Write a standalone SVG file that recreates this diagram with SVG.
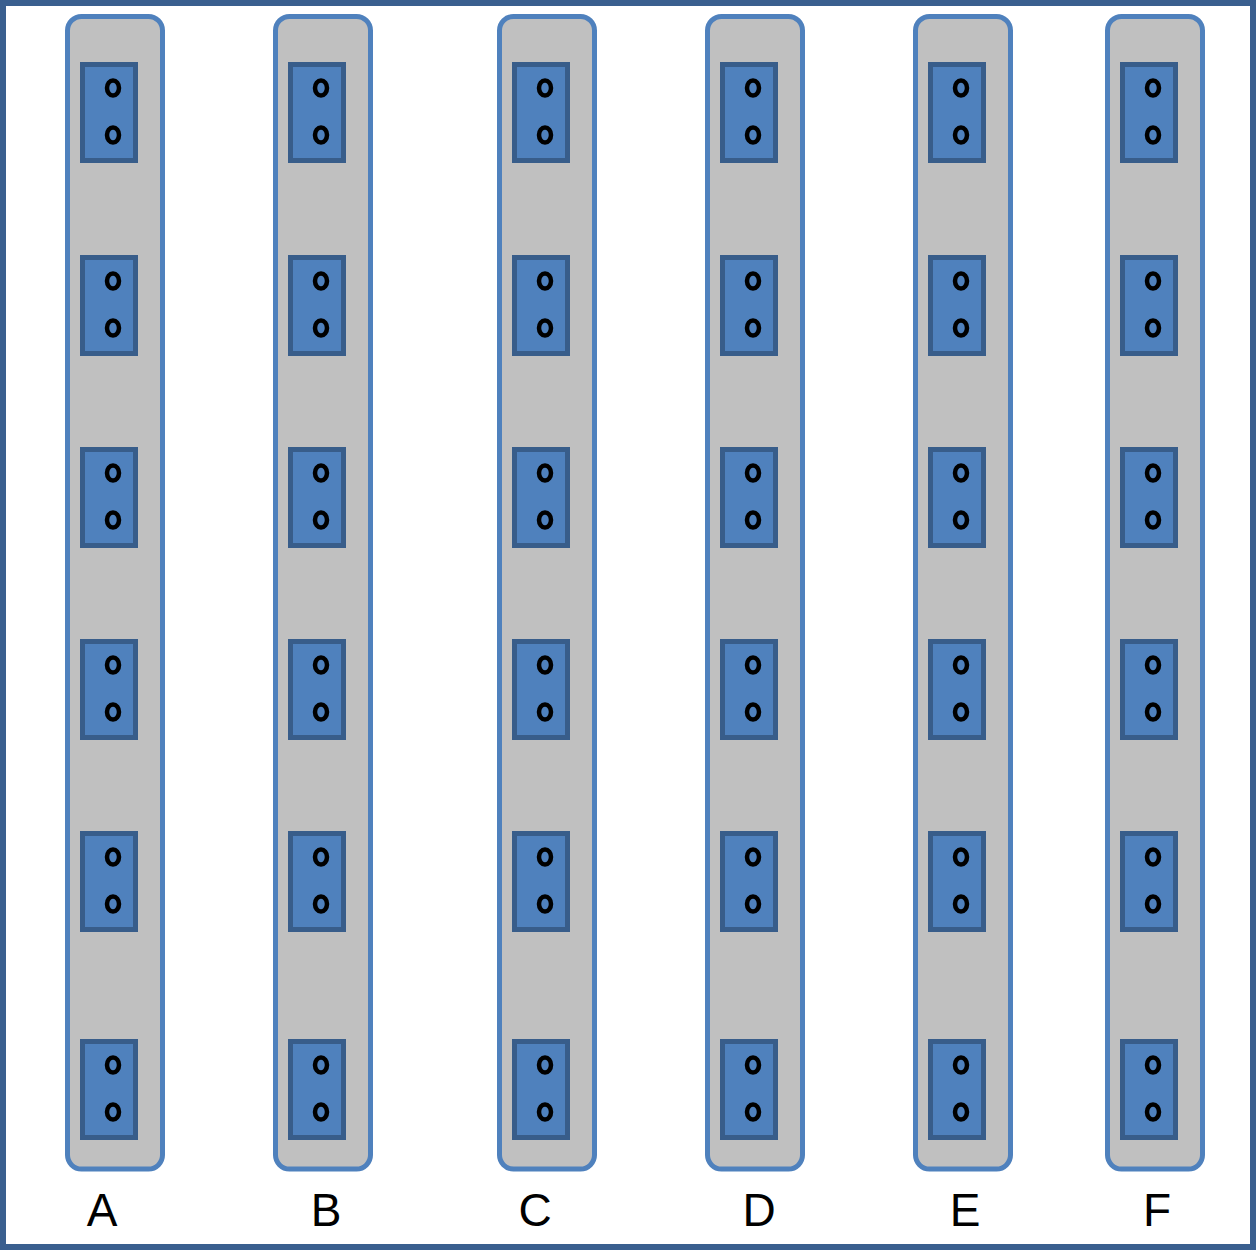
<svg xmlns="http://www.w3.org/2000/svg" xmlns:xlink="http://www.w3.org/1999/xlink" width="1256" height="1250" viewBox="0 0 1256 1250">
<style>
.frame{fill:#fff;stroke:#3a5f8f;stroke-width:6}
.strip{fill:#c0c0c0;stroke:#4f81bd;stroke-width:5}
.blk{fill:#4f81bd;stroke:#385d8a;stroke-width:5}
.hole{fill:none;stroke:#000;stroke-width:4.5}
.lbl{font-family:"Liberation Sans",Arial,sans-serif;font-size:46px;fill:#000;text-anchor:middle}
</style>
<defs>
<g id="blk">
<rect class="blk" x="2.5" y="2.5" width="53" height="96"/>
<ellipse class="hole" cx="33" cy="26" rx="6" ry="7.5"/>
<ellipse class="hole" cx="33" cy="73" rx="6" ry="7.5"/>
</g>
<g id="col">
<rect class="strip" x="1.5" y="16.5" width="95" height="1152.5" rx="14"/>
<use xlink:href="#blk" x="14" y="62"/>
<use xlink:href="#blk" x="14" y="255"/>
<use xlink:href="#blk" x="14" y="447"/>
<use xlink:href="#blk" x="14" y="639"/>
<use xlink:href="#blk" x="14" y="831"/>
<use xlink:href="#blk" x="14" y="1039"/>
</g>
</defs>
<rect class="frame" x="3" y="3" width="1250" height="1244"/>
<g id="colA"><use xlink:href="#col" x="66" y="0"/><text class="lbl" x="102" y="1226">A</text></g>
<g id="colB"><use xlink:href="#col" x="274" y="0"/><text class="lbl" x="326" y="1226">B</text></g>
<g id="colC"><use xlink:href="#col" x="498" y="0"/><text class="lbl" x="535" y="1226">C</text></g>
<g id="colD"><use xlink:href="#col" x="706" y="0"/><text class="lbl" x="759" y="1226">D</text></g>
<g id="colE"><use xlink:href="#col" x="914" y="0"/><text class="lbl" x="965" y="1226">E</text></g>
<g id="colF"><use xlink:href="#col" x="1106" y="0"/><text class="lbl" x="1157" y="1226">F</text></g>
<g id="connectors"/>
</svg>
